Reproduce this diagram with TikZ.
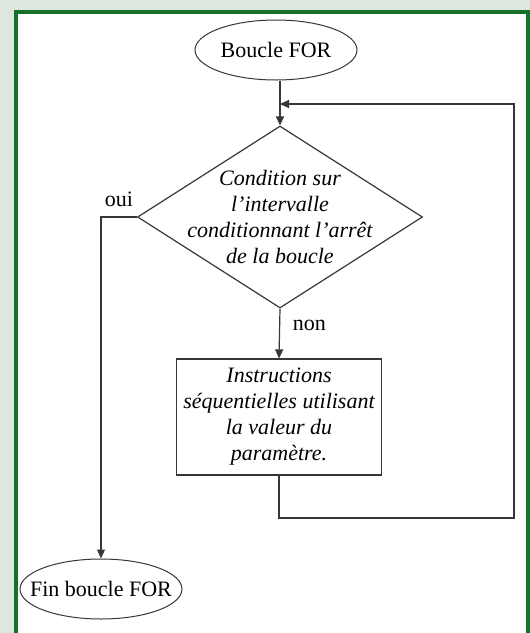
\documentclass[tikz,border=0pt]{standalone}
\usepackage{fontspec}
\setmainfont{Liberation Serif}
\usetikzlibrary{arrows.meta,shapes.geometric,positioning}
\definecolor{cadre}{RGB}{22,112,40}
\definecolor{fond}{RGB}{221,231,222}
\definecolor{trait}{RGB}{55,55,55}

\begin{document}
\begin{tikzpicture}[x=0.5pt,y=-0.5pt,>={Triangle[length=4.5pt,width=4pt]},
  lien/.style={draw=trait,line width=0.6pt},
  borne/.style={ellipse,draw=trait,line width=0.5pt,inner sep=0pt,
    minimum width=81pt,minimum height=30pt,font=\fontsize{11}{13}\selectfont},
  test/.style={diamond,draw=trait,line width=0.6pt,inner sep=0pt,
    minimum width=142.5pt,minimum height=91pt},
  bloc/.style={rectangle,draw=trait,line width=0.6pt,minimum width=102pt,minimum height=58pt},
  texte/.style={align=center,font=\fontsize{11}{13}\selectfont\itshape},
  etiq/.style={font=\fontsize{11}{13}\selectfont}]
  % fond et cadre
  \useasboundingbox (0,0) rectangle (530,633);
  \clip (0,0) rectangle (530,633);
  \fill[fond] (0,0) rectangle (530,633);
  \draw[cadre,line width=2pt,fill=white] (16,12) rectangle (528,660);

  \node[borne] (debut) at (276,50) {\makebox[0pt]{Boucle FOR}};
  \node[test] (cond) at (280,217) {};
  \node[texte] (condtxt) at (cond) {Condition sur\\l'intervalle\\conditionnant l'arrêt\\de la boucle};
  \node[bloc,texte] (instr) at (279,417) {Instructions\\séquentielles utilisant\\la valeur du\\paramètre.};
  \node[borne] (fin) at (101,589) {\makebox[0pt]{Fin boucle FOR}};
  \coordinate (jonction) at (280,104);
  \coordinate (coin) at (514,518);

  \draw[lien,->] (cond.north |- debut.south) -- (cond.north);
  \draw[lien,->] (cond.south) -- (instr.north) node[etiq,pos=0.33,right=3pt]{non};
  \draw[lien,->] (cond.west) -| (fin.north) node[etiq,pos=0.25,above=1.5pt]{oui};
  \draw[lien,->] (instr.south) |- (coin) |- (jonction);
\end{tikzpicture}
\end{document}
